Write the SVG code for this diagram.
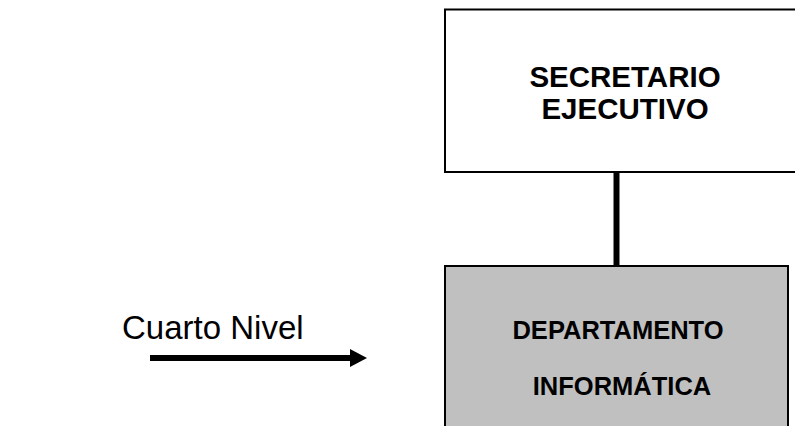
<svg xmlns="http://www.w3.org/2000/svg" width="795" height="426" viewBox="0 0 795 426">
  <style>
    .box { stroke: #000; stroke-width: 2; }
    .bold { font-family: "Liberation Sans", Arial, sans-serif; font-weight: bold; fill: #000; text-anchor: middle; }
    .plain { font-family: "Liberation Sans", Arial, sans-serif; fill: #000; }
    .link { stroke: #000; stroke-width: 6; fill: none; }
  </style>
  <rect width="795" height="426" fill="#fff"/>

  <g id="connectors">
    <line class="link" x1="616.5" y1="172" x2="616.5" y2="266"/>
    <line class="link" x1="150" y1="358" x2="352" y2="358"/>
    <polygon points="350,349 367,358 350,367" fill="#000"/>
  </g>

  <g id="secretario">
    <rect class="box" x="445" y="9.5" width="360" height="162.5" fill="#fff"/>
    <text class="bold" x="625" y="87" font-size="29.5">SECRETARIO</text>
    <text class="bold" x="625" y="119" font-size="29.5">EJECUTIVO</text>
  </g>

  <g id="departamento">
    <rect class="box" x="445" y="266" width="343" height="180" fill="#c0c0c0"/>
    <text class="bold" x="618" y="339" font-size="25.5">DEPARTAMENTO</text>
    <text class="bold" x="622" y="395" font-size="25.5">INFORMÁTICA</text>
  </g>

  <g id="nivel">
    <text class="plain" x="122" y="339" font-size="33">Cuarto Nivel</text>
  </g>
</svg>
